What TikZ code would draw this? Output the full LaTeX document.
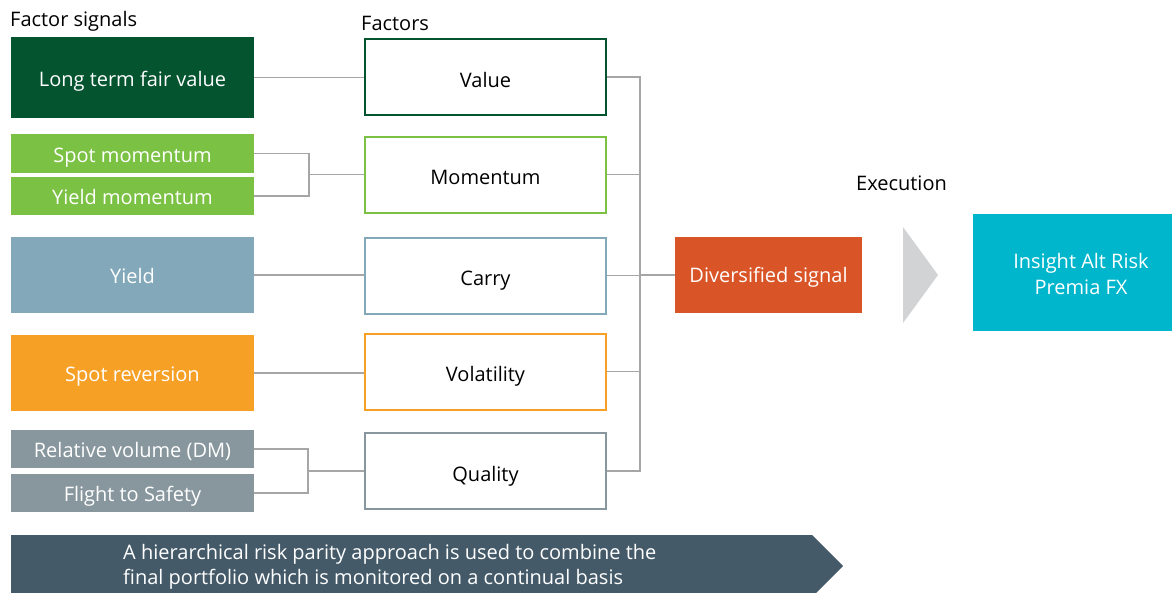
\documentclass[tikz,border=0pt]{standalone}
\usepackage{fontspec}
\setmainfont{Open Sans}
\definecolor{dgreen}{HTML}{03542F}
\definecolor{lgreen}{HTML}{7BC143}
\definecolor{yblue}{HTML}{82A8B9}
\definecolor{orng}{HTML}{F7A026}
\definecolor{qgray}{HTML}{88979E}
\definecolor{divred}{HTML}{D95427}
\definecolor{teal}{HTML}{00B6CC}
\definecolor{chev}{HTML}{D1D3D4}
\definecolor{banner}{HTML}{445A69}
\definecolor{conn}{HTML}{A6A6A6}
\begin{document}
\begin{tikzpicture}[x=1pt,y=-1pt,
  every node/.style={font=\fontsize{20}{24}\selectfont, inner sep=0pt},
  sig/.style={fill=#1, text=white, minimum width=243pt, text height=17pt, text depth=0pt},
  fac/.style={draw=#1, line width=2pt, fill=white, text=black, minimum width=241pt, minimum height=76pt, text height=20pt, text depth=0pt},
  link/.style={draw=conn, line width=1.4pt},
  hdr/.style={anchor=west, text=black}]
\useasboundingbox (0,0) rectangle (1172,592);
% headers
\node[hdr] (hsig) at (10,21) {Factor signals};
\node[hdr] (hfac) at (361,23) {Factors};
\node[hdr] (hexe) at (856,183) {Execution};
% signal boxes
\node[sig=dgreen, minimum height=81pt] (ltfv) at (132.5,77.5) {Long term fair value};
\node[sig=lgreen, minimum height=39pt] (spot) at (132.5,153.5) {Spot momentum};
\node[sig=lgreen, minimum height=38pt] (yieldm) at (132.5,196) {Yield momentum};
\node[sig=yblue, minimum height=76pt] (yield) at (132.5,275) {Yield};
\node[sig=orng, minimum height=76pt] (spotrev) at (132.5,373) {Spot reversion};
\node[sig=qgray, minimum height=38pt] (relvol) at (132.5,449) {Relative volume (DM)};
\node[sig=qgray, minimum height=38pt] (flight) at (132.5,493) {Flight to Safety};
% factor boxes
\node[fac=dgreen] (value) at (485.5,77) {Value};
\node[fac=lgreen] (momentum) at (485.5,174.5) {Momentum};
\node[fac=yblue] (carry) at (485.5,275.5) {Carry};
\node[fac=orng] (volatility) at (485.5,371.5) {Volatility};
\node[fac=qgray] (quality) at (485.5,471) {Quality};
% diversified + execution
\node[fill=divred, text=white, minimum width=187pt, minimum height=76pt, text height=14pt, text depth=0pt] (divsig) at (768.5,275) {Diversified signal};
\node[fill=teal, minimum width=199pt, minimum height=117pt] (insight) at (1072.5,272.5) {};
\node[text=white, align=center, font=\fontsize{20}{26}\selectfont] (insighttext) at (1081,274) {Insight Alt Risk\\Premia FX};
\fill[chev] (903,227) -- (938,275) -- (903,323) -- cycle;
% connectors
\coordinate (jm) at (309,174.5);
\coordinate (jq) at (308,471);
\coordinate (bb) at (640,471);
\draw[link] (ltfv.east) -- (ltfv.east -| value.west);
\draw[link] (spot.east) -| (jm) |- (yieldm.east);
\draw[link] (jm) -- (momentum.west);
\draw[link] (yield.east) -- (yield.east -| carry.west);
\draw[link] (spotrev.east) -- (spotrev.east -| volatility.west);
\draw[link] (relvol.east) -| (jq) |- (flight.east);
\draw[link] (jq) -- (quality.west);
\draw[link] (value.east) -| (bb) -- (quality.east);
\draw[link] (momentum.east) -- (momentum.east -| bb);
\draw[link] (carry.east) -- (carry.east -| bb);
\draw[link] (volatility.east) -- (volatility.east -| bb);
\draw[link] (divsig.west) -- (divsig.west -| bb);
% banner
\fill[banner] (11,535) -- (812,535) -- (843,566) -- (812,597) -- (11,597) -- cycle;
\node[anchor=west, text=white, align=left, font=\fontsize{20}{25}\selectfont] (bannertext) at (123,567) {A hierarchical risk parity approach is used to combine the\\final portfolio which is monitored on a continual basis};
\end{tikzpicture}
\end{document}
